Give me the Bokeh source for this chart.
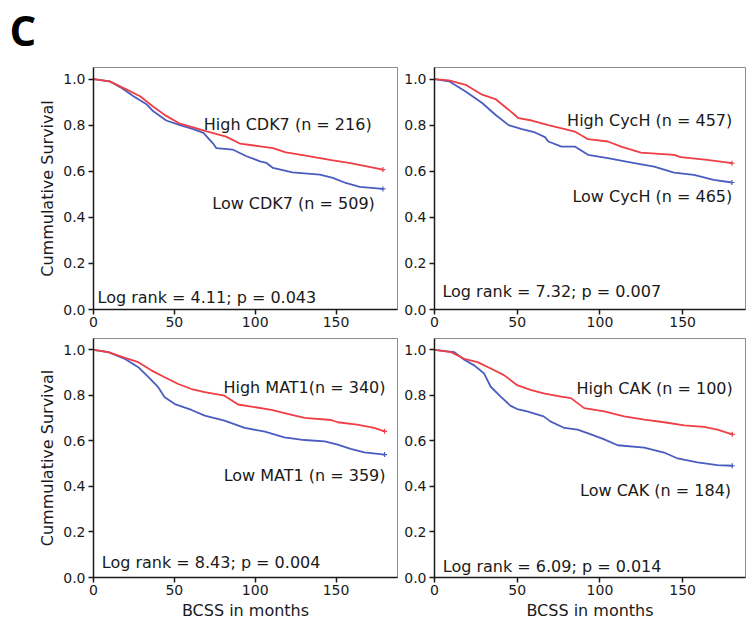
from bokeh.plotting import figure
from bokeh.layouts import column, row
from bokeh.models import Range1d, FixedTicker, PrintfTickFormatter, ColumnDataSource
from bokeh.core.properties import value
from bokeh.embed import file_html
from bokeh.resources import INLINE

# ---------------- data ----------------
x_ticks = [0, 50, 100, 150]
y_ticks = [0.0, 0.2, 0.4, 0.6, 0.8, 1.0]

# Panel 1: CDK7
cdk7_high_t = [0, 10, 20.6, 28.8, 37, 45, 53.5, 61.7, 70, 82, 90.5, 103, 111, 119, 127.6, 140, 148, 158, 169, 179]
cdk7_high_s = [1.0, 0.99, 0.954, 0.925, 0.88, 0.84, 0.806, 0.79, 0.773, 0.75, 0.72, 0.708, 0.70, 0.682, 0.672, 0.657, 0.647, 0.636, 0.621, 0.607]
cdk7_low_t = [0, 10, 16.5, 24.7, 33, 37, 45, 53.5, 61.7, 68, 74, 76, 86, 94.6, 103, 107, 111, 123, 140, 148, 156, 164.6, 179]
cdk7_low_s = [1.0, 0.99, 0.965, 0.925, 0.889, 0.86, 0.82, 0.80, 0.783, 0.766, 0.72, 0.70, 0.694, 0.665, 0.643, 0.636, 0.614, 0.595, 0.585, 0.571, 0.549, 0.532, 0.523]

# Panel 2: CycH
cych_high_t = [0, 8.8, 18.8, 28.8, 36.8, 44.8, 50.8, 58.8, 68.8, 78.8, 84.8, 92.8, 104.8, 112.8, 124.8, 144.8, 148.8, 164.8, 179.8]
cych_high_s = [1.0, 0.994, 0.975, 0.932, 0.913, 0.867, 0.83, 0.82, 0.80, 0.783, 0.772, 0.739, 0.729, 0.707, 0.681, 0.671, 0.661, 0.649, 0.635]
cych_low_t = [0, 8.8, 18.8, 28.8, 36.8, 44.8, 52.8, 60.8, 66.8, 68.8, 76.8, 84.8, 92.8, 104.8, 120.8, 132.8, 144.8, 156.8, 168.8, 179.8]
cych_low_s = [1.0, 0.99, 0.946, 0.896, 0.845, 0.80, 0.783, 0.768, 0.748, 0.729, 0.707, 0.707, 0.671, 0.657, 0.635, 0.62, 0.594, 0.584, 0.562, 0.551]

# Panel 3: MAT1
mat1_high_t = [0, 9.2, 19.5, 27.7, 36, 44, 52.4, 60.6, 68.8, 81, 89.4, 97.6, 110, 122, 130.5, 147, 151, 163, 173.6, 180]
mat1_high_s = [1.0, 0.99, 0.965, 0.946, 0.909, 0.88, 0.85, 0.828, 0.814, 0.799, 0.76, 0.751, 0.736, 0.716, 0.701, 0.692, 0.682, 0.672, 0.657, 0.642]
mat1_low_t = [0, 9.2, 19.5, 27.7, 34, 40, 44, 50.3, 60.6, 68.8, 81, 93.5, 106, 118, 130.5, 143, 151, 159, 167.5, 180]
mat1_low_s = [1.0, 0.99, 0.96, 0.924, 0.88, 0.836, 0.792, 0.762, 0.736, 0.711, 0.689, 0.657, 0.641, 0.616, 0.604, 0.598, 0.584, 0.565, 0.55, 0.54]

# Panel 4: CAK
cak_high_t = [0, 10, 18, 26, 34, 42, 50, 58, 66, 76.5, 82.5, 90.5, 102.6, 114.7, 126.8, 138.8, 151, 163, 171, 180]
cak_high_s = [1.0, 0.99, 0.961, 0.946, 0.918, 0.889, 0.845, 0.824, 0.809, 0.795, 0.788, 0.744, 0.73, 0.708, 0.694, 0.682, 0.668, 0.662, 0.65, 0.629]
cak_low_t = [0, 12, 18, 24, 30, 34, 40, 46, 50, 56, 66, 70, 78.5, 86.5, 94.6, 102.6, 110.7, 126.8, 138.8, 147, 159, 171, 180]
cak_low_s = [1.0, 0.99, 0.957, 0.932, 0.896, 0.838, 0.795, 0.754, 0.74, 0.73, 0.708, 0.686, 0.657, 0.65, 0.629, 0.607, 0.581, 0.571, 0.549, 0.523, 0.506, 0.494, 0.491]

high_labels = ["High CDK7 (n = 216)", "High CycH (n = 457)", "High MAT1(n = 340)", "High CAK (n = 100)"]
low_labels = ["Low CDK7 (n = 509)", "Low CycH (n = 465)", "Low MAT1 (n = 359)", "Low CAK (n = 184)"]
logrank_labels = ["Log rank = 4.11; p = 0.043", "Log rank = 7.32; p = 0.007",
                  "Log rank = 8.43; p = 0.004", "Log rank = 6.09; p = 0.014"]
# label anchor positions (data units)
high_pos = [(172, 0.804), (180, 0.819), (180.6, 0.836), (180.3, 0.831)]
low_pos = [(174, 0.46), (180, 0.49), (180.6, 0.447), (179.3, 0.383)]
logrank_pos = [(2.5, 0.052), (4.8, 0.077), (5.1, 0.066), (5.0, 0.05)]

panel_letter = "C"
y_title = "Cummulative Survival"
x_title = "BCSS in months"

RED = "#ef3e45"
BLUE = "#4a5cc0"
FONT = "DejaVu Sans"


def make_panel(idx, width, height, borders, high_t, high_s, low_t, low_s, ylabel, xlabel):
    left, right, top, bottom = borders
    p = figure(width=width, height=height, output_backend="svg", toolbar_location=None,
               x_range=Range1d(0, 188), y_range=Range1d(0, 1.05),
               min_border_left=left, min_border_right=right,
               min_border_top=top, min_border_bottom=bottom)
    p.grid.visible = False
    p.background_fill_color = "white"
    p.border_fill_color = "white"
    p.outline_line_color = "#8c8c8c"
    p.outline_line_width = 1

    for ax in (p.xaxis[0], p.yaxis[0]):
        ax.axis_line_color = "#1a1a1a"
        ax.axis_line_width = 1.5
        ax.major_tick_line_color = "#1a1a1a"
        ax.major_tick_line_width = 1.5
        ax.major_tick_in = 0
        ax.major_tick_out = 5
        ax.minor_tick_line_color = None
        ax.major_label_text_font = FONT
        ax.major_label_text_font_size = "14px"
        ax.major_label_text_color = "#1a1a1a"
        ax.major_label_standoff = 3
        ax.axis_label_text_font = FONT
        ax.axis_label_text_font_size = "16px"
        ax.axis_label_text_font_style = "normal"
        ax.axis_label_text_color = "#1a1a1a"
    p.xaxis[0].major_label_standoff = 2
    p.xaxis[0].ticker = FixedTicker(ticks=x_ticks)
    p.yaxis[0].ticker = FixedTicker(ticks=y_ticks)
    p.yaxis[0].formatter = PrintfTickFormatter(format="%.1f")
    if ylabel:
        p.yaxis[0].axis_label = ylabel
        p.yaxis[0].axis_label_standoff = 3
    if xlabel:
        p.xaxis[0].axis_label = xlabel
        p.xaxis[0].axis_label_standoff = 3

    p.line(low_t, low_s, line_color=BLUE, line_width=1.8)
    p.line(high_t, high_s, line_color=RED, line_width=1.8)
    p.scatter([low_t[-1]], [low_s[-1]], marker="cross", size=5, line_color=BLUE, line_width=1.2)
    p.scatter([high_t[-1]], [high_s[-1]], marker="cross", size=5, line_color=RED, line_width=1.2)

    src_r = ColumnDataSource(dict(x=[high_pos[idx][0], low_pos[idx][0]],
                                  y=[high_pos[idx][1], low_pos[idx][1]],
                                  t=[high_labels[idx], low_labels[idx]]))
    p.text(x="x", y="y", text="t", source=src_r, text_font=value(FONT), text_font_size="16px",
           text_align="right", text_baseline="middle", text_color="#1a1a1a")
    src_l = ColumnDataSource(dict(x=[logrank_pos[idx][0]], y=[logrank_pos[idx][1]], t=[logrank_labels[idx]]))
    p.text(x="x", y="y", text="t", source=src_l, text_font=value(FONT), text_font_size="16px",
           text_align="left", text_baseline="middle", text_color="#1a1a1a")
    return p


# strip holding the panel letter (frame 60 x 58 px, data units = pixels, y upward)
head = figure(frame_width=60, frame_height=58, output_backend="svg", toolbar_location=None,
              x_range=Range1d(0, 60), y_range=Range1d(0, 58),
              x_axis_type=None, y_axis_type=None, min_border=0)
head.grid.visible = False
head.outline_line_color = None
head.text(x=[9], y=[29.5], text=[panel_letter], text_font=value("Open Sans"), text_font_size="42px",
          text_font_style="bold", text_align="left", text_baseline="middle", text_color="#000000")

tl = make_panel(0, 401, 277, (93, 4, 9, 26), cdk7_high_t, cdk7_high_s, cdk7_low_t, cdk7_low_s, y_title, None)
tr = make_panel(1, 346, 277, (31, 2, 9, 26), cych_high_t, cych_high_s, cych_low_t, cych_low_s, None, None)
bl = make_panel(2, 401, 289, (93, 4, 3, 47), mat1_high_t, mat1_high_s, mat1_low_t, mat1_low_s, y_title, x_title)
br = make_panel(3, 346, 289, (31, 2, 3, 47), cak_high_t, cak_high_s, cak_low_t, cak_low_s, None, x_title)

layout = column(head, row(tl, tr), row(bl, br))
open("out.html", "w").write(file_html(layout, INLINE))
